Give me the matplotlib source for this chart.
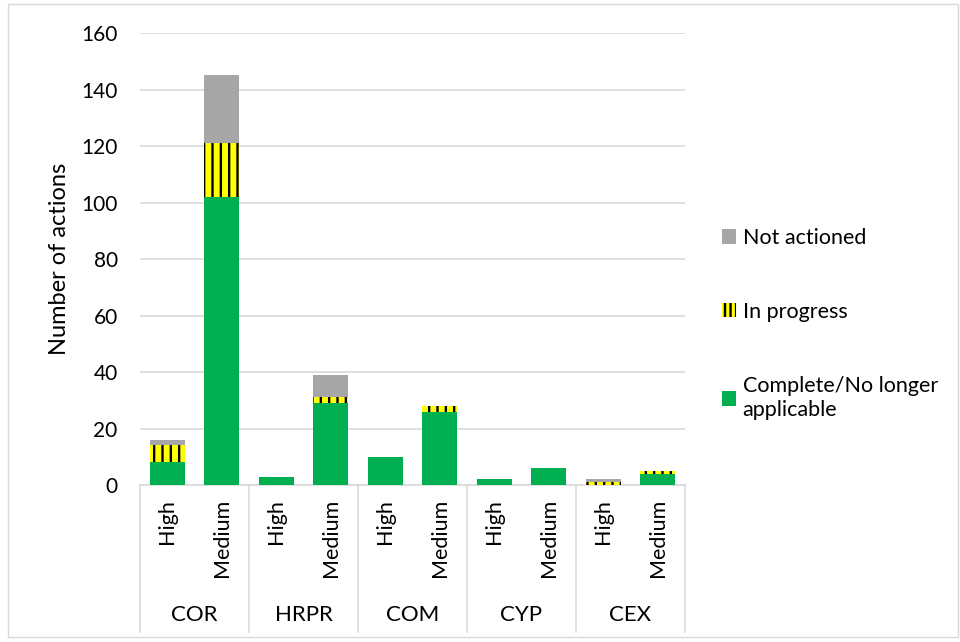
import numpy as np
import matplotlib
matplotlib.use("Agg")
import matplotlib.pyplot as plt
import matplotlib.patches as mpatches
import matplotlib.transforms as mtrans

plt.rcParams['font.family'] = ['Lato', 'DejaVu Sans']
plt.rcParams['hatch.linewidth'] = 1.7
plt.rcParams['hatch.color'] = 'black'

groups = ['COR', 'HRPR', 'COM', 'CYP', 'CEX']
levels = ['High', 'Medium']
complete = [8, 102, 3, 29, 10, 26, 2, 6, 0, 4]
in_progress = [6, 19, 0, 2, 0, 2, 0, 0, 1, 1]
not_actioned = [2, 24, 0, 8, 0, 0, 0, 0, 1, 0]

green = '#00B050'
yellow = '#FFFF00'
grey = '#A6A6A6'

fig = plt.figure(figsize=(9.6, 6.42), dpi=100)
ax = fig.add_axes([0.1458, 0.2445, 0.5677, 0.7041])

x = np.arange(len(complete))
complete = np.array(complete)
in_progress = np.array(in_progress)
not_actioned = np.array(not_actioned)
w = 0.64

ax.bar(x, complete, w, color=green, linewidth=0, zorder=3)
ax.bar(x, in_progress, w, bottom=complete, color=yellow, hatch='||',
       edgecolor='black', linewidth=0, zorder=3)
ax.bar(x, not_actioned, w, bottom=complete + in_progress, color=grey,
       linewidth=0, zorder=3)

ax.set_xlim(-0.5, len(complete) - 0.5)
ax.set_ylim(0, 160)
ax.set_yticks(range(0, 161, 20))
ax.yaxis.grid(True, color='#D9D9D9', linewidth=1.2, zorder=0)
ax.set_axisbelow(True)
for s in ['top', 'right', 'left']:
    ax.spines[s].set_visible(False)
ax.spines['bottom'].set_color('#D9D9D9')
ax.spines['bottom'].set_linewidth(1.2)
ax.tick_params(axis='y', length=0, labelsize=15, pad=16)
ax.tick_params(axis='x', length=0, labelbottom=False)
ax.set_ylabel('Number of actions', fontsize=17, labelpad=8)

trans = mtrans.blended_transform_factory(ax.transData, ax.transAxes)
for i in range(len(complete)):
    ax.text(i, -0.031, levels[i % 2], rotation=90, ha='center', va='top',
            fontsize=15.5, transform=trans)
for g, name in enumerate(groups):
    ax.text(2 * g + 0.5, -0.287, name, ha='center', va='center',
            fontsize=16, transform=trans)
for g in range(len(groups) + 1):
    ax.plot([2 * g - 0.5, 2 * g - 0.5], [0, -0.325], color='#D9D9D9',
            linewidth=1.2, transform=trans, clip_on=False)

handles = [
    mpatches.Patch(facecolor=grey, linewidth=0),
    mpatches.Patch(facecolor=yellow, hatch='|||', edgecolor='black', linewidth=0),
    mpatches.Patch(facecolor=green, linewidth=0),
]
labels = ['Not actioned', 'In progress', 'Complete/No longer\napplicable']
leg = fig.legend(handles, labels, loc='upper left', bbox_to_anchor=(0.7315, 0.675),
                 frameon=False, fontsize=15.5, handlelength=0.65, handleheight=0.65,
                 handletextpad=0.33, labelspacing=2.5)
for t in leg.get_texts():
    t.set_linespacing(1.3)

fig.patches.append(mpatches.Rectangle((0.008, 0.008), 0.99, 0.985,
                                      transform=fig.transFigure, fill=False,
                                      edgecolor='#D9D9D9', linewidth=1))

fig.savefig('out.png', dpi=100)
